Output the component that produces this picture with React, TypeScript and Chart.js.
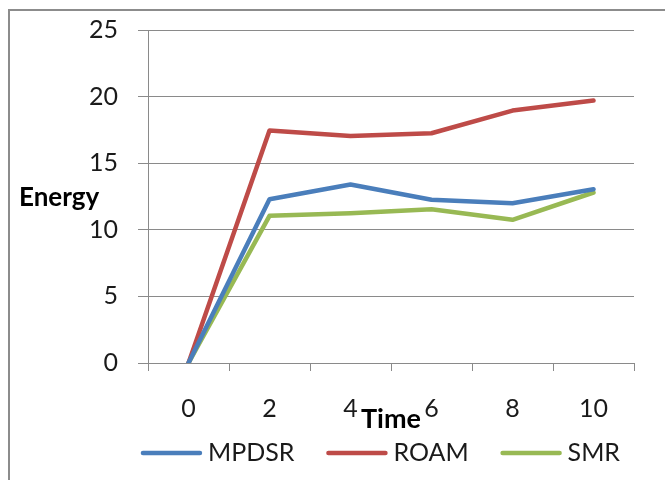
import React, { useEffect, useRef } from "react";
import { Chart, registerables } from "chart.js";

Chart.register(...registerables);

const categories = ["0", "2", "4", "6", "8", "10"];
const mpdsr = [0, 12.3, 13.4, 12.25, 12.0, 13.05];
const roam = [0, 17.45, 17.05, 17.25, 18.95, 19.7];
const smr = [0, 11.05, 11.25, 11.55, 10.75, 12.8];
const seriesNames = ["MPDSR", "ROAM", "SMR"];
const seriesColors = ["#4A7EBB", "#BE4B48", "#98B954"];
const yTitle = "Energy";
const xTitle = "Time";

const FONT = "Lato, 'Open Sans', sans-serif";
const GRID = "#8a8a8a";

const decorPlugin = {
  id: "decor",
  afterDraw(chart: any) {
    const ctx = chart.ctx as CanvasRenderingContext2D;
    const area = chart.chartArea;
    ctx.save();
    // frame
    ctx.strokeStyle = "#8c8c8c";
    ctx.lineWidth = 2;
    ctx.beginPath();
    ctx.moveTo(9, chart.height);
    ctx.lineTo(9, 10);
    ctx.lineTo(chart.width, 10);
    ctx.stroke();

    // axis titles
    ctx.fillStyle = "#000";
    ctx.font = `bold 26px ${FONT}`;
    ctx.textAlign = "left";
    ctx.textBaseline = "alphabetic";
    ctx.fillText(yTitle, 19, 206);
    ctx.font = `bold 27px ${FONT}`;
    ctx.textAlign = "center";
    ctx.fillText(xTitle, (area.left + area.right) / 2, 428);

    // legend
    ctx.font = `25px ${FONT}`;
    ctx.textBaseline = "middle";
    ctx.textAlign = "left";
    const lineLen = 61;
    const gapText = 6;
    const gapItem = 32;
    const ds = chart.data.datasets;
    const widths = ds.map((d: any) => ctx.measureText(d.label).width);
    let total = 0;
    ds.forEach((_: any, i: number) => {
      total += lineLen + gapText + widths[i];
      if (i < ds.length - 1) total += gapItem;
    });
    let x = 380.5 - total / 2;
    const y = 453;
    ds.forEach((d: any, i: number) => {
      ctx.strokeStyle = d.borderColor;
      ctx.lineWidth = 4.5;
      ctx.lineCap = "round";
      ctx.beginPath();
      ctx.moveTo(x + 2, y);
      ctx.lineTo(x + lineLen - 2, y);
      ctx.stroke();
      x += lineLen + gapText;
      ctx.fillStyle = "#1a1a1a";
      ctx.fillText(d.label, x, y);
      x += widths[i] + gapItem;
    });
    ctx.restore();
  },
};

export default function App() {
  const ref = useRef<HTMLCanvasElement | null>(null);
  useEffect(() => {
    document.body.style.margin = "0";
    const canvas = ref.current;
    if (!canvas) return;
    const values = [mpdsr, roam, smr];
    const chart = new Chart(canvas, {
      type: "line",
      data: {
        labels: categories,
        datasets: seriesNames.map((name, i) => ({
          label: name,
          data: values[i],
          borderColor: seriesColors[i],
          backgroundColor: seriesColors[i],
          borderWidth: 4.5,
          pointRadius: 0,
          fill: false,
          tension: 0,
          borderJoinStyle: "round" as const,
          borderCapStyle: "round" as const,
        })),
      },
      options: {
        animation: false,
        responsive: false,
        layout: { padding: { top: 30, right: 31, bottom: 0, left: 0 } },
        plugins: {
          legend: { display: false },
          tooltip: { enabled: false },
          title: { display: false },
        },
        scales: {
          x: {
            type: "category",
            offset: true,
            grid: {
              offset: true,
              drawOnChartArea: false,
              drawTicks: true,
              tickLength: 8,
              color: GRID,
            },
            border: { display: true, color: GRID, width: 1 },
            ticks: {
              color: "#1a1a1a",
              font: { family: FONT, size: 25 },
              padding: 23,
              maxRotation: 0,
              autoSkip: false,
            },
            afterFit(scale: any) {
              scale.height = 117;
              scale.paddingLeft = 0;
              scale.paddingRight = 0;
              scale.paddingTop = 0;
              scale.paddingBottom = 0;
            },
          },
          y: {
            min: 0,
            max: 25,
            ticks: {
              stepSize: 5,
              color: "#1a1a1a",
              font: { family: FONT, size: 25 },
              padding: 20,
            },
            grid: { color: GRID, tickLength: 10, drawTicks: true },
            border: { display: true, color: GRID, width: 1 },
            afterFit(scale: any) {
              scale.width = 148;
              scale.paddingTop = 0;
              scale.paddingBottom = 0;
              scale.paddingLeft = 0;
              scale.paddingRight = 0;
            },
          },
        },
      },
      plugins: [decorPlugin],
    });
    return () => chart.destroy();
  }, []);
  return (
    <div style={{ width: 665, height: 480, background: "#fff" }}>
      <canvas ref={ref} width={665} height={480} style={{ display: "block" }} />
    </div>
  );
}
